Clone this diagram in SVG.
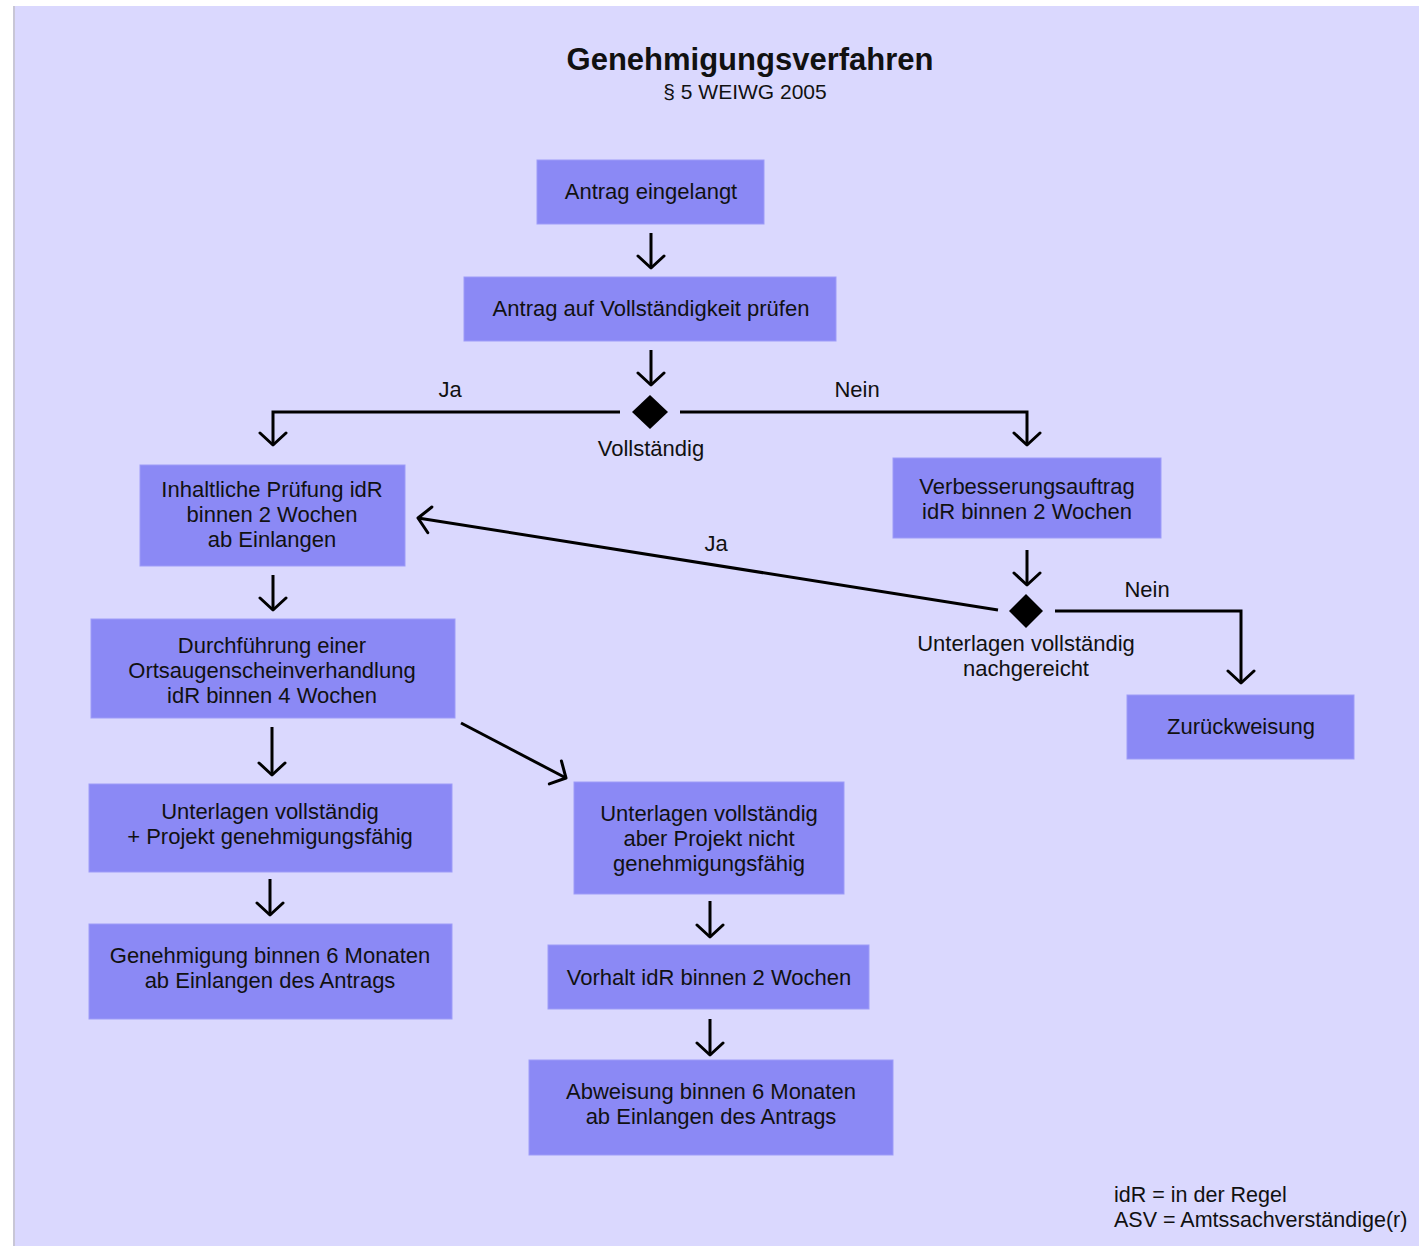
<svg xmlns="http://www.w3.org/2000/svg" width="1419" height="1246" viewBox="0 0 1419 1246">
<defs>
<marker id="arr" markerUnits="userSpaceOnUse" markerWidth="30" markerHeight="30" viewBox="0 0 30 30" refX="15" refY="15" orient="auto">
<path d="M3,2 L15,15 L3,28" fill="none" stroke="#000" stroke-width="3" stroke-linecap="round" stroke-linejoin="round"/>
</marker>
<style>
.box{fill:#8b89f5;stroke:#9d9bf7;stroke-width:1}
.t{font-family:"Liberation Sans",Arial,sans-serif;font-size:22px;fill:#111;text-anchor:middle}
.l{font-family:"Liberation Sans",Arial,sans-serif;font-size:21.5px;fill:#111}
.c{fill:none;stroke:#000;stroke-width:3}
.a{marker-end:url(#arr)}
</style>
</defs>
<rect x="0" y="0" width="1419" height="1246" fill="#fff"/>
<rect x="14" y="6" width="1405" height="1240" fill="#dad8fe"/>
<line x1="14" y1="6" x2="14" y2="1246" stroke="#c8c6d6" stroke-width="2"/>

<g id="title">
<text x="750" y="70" class="t" style="font-size:31px;font-weight:bold">Genehmigungsverfahren</text>
<text x="745" y="99" class="t" style="font-size:21px">§ 5 WEIWG 2005</text>
</g>

<g id="n1"><rect class="box" x="537" y="160" width="227" height="64"/><text class="t" x="651" y="199">Antrag eingelangt</text></g>
<g id="n2"><rect class="box" x="464" y="277" width="372" height="64"/><text class="t" x="651" y="316">Antrag auf Vollständigkeit prüfen</text></g>
<g id="d1"><polygon points="650,395 668,412 650,429 632,412" fill="#000"/><text class="t" x="651" y="456">Vollständig</text></g>
<g id="n3"><rect class="box" x="140" y="465" width="265" height="101"/><text class="t" x="272" y="497">Inhaltliche Prüfung idR</text><text class="t" x="272" y="522">binnen 2 Wochen</text><text class="t" x="272" y="547">ab Einlangen</text></g>
<g id="n4"><rect class="box" x="893" y="458" width="268" height="80"/><text class="t" x="1027" y="494">Verbesserungsauftrag</text><text class="t" x="1027" y="519">idR binnen 2 Wochen</text></g>
<g id="d2"><polygon points="1026,594 1043,611 1026,628 1009,611" fill="#000"/><text class="t" x="1026" y="651">Unterlagen vollständig</text><text class="t" x="1026" y="676">nachgereicht</text></g>
<g id="n5"><rect class="box" x="1127" y="695" width="227" height="64"/><text class="t" x="1241" y="734">Zurückweisung</text></g>
<g id="n6"><rect class="box" x="91" y="619" width="364" height="99"/><text class="t" x="272" y="653">Durchführung einer</text><text class="t" x="272" y="678">Ortsaugenscheinverhandlung</text><text class="t" x="272" y="703">idR binnen 4 Wochen</text></g>
<g id="n7"><rect class="box" x="89" y="784" width="363" height="88"/><text class="t" x="270" y="819">Unterlagen vollständig</text><text class="t" x="270" y="844">+ Projekt genehmigungsfähig</text></g>
<g id="n8"><rect class="box" x="89" y="924" width="363" height="95"/><text class="t" x="270" y="963">Genehmigung binnen 6 Monaten</text><text class="t" x="270" y="988">ab Einlangen des Antrags</text></g>
<g id="n9"><rect class="box" x="574" y="782" width="270" height="112"/><text class="t" x="709" y="821">Unterlagen vollständig</text><text class="t" x="709" y="846">aber Projekt nicht</text><text class="t" x="709" y="871">genehmigungsfähig</text></g>
<g id="n10"><rect class="box" x="548" y="945" width="321" height="64"/><text class="t" x="709" y="985">Vorhalt idR binnen 2 Wochen</text></g>
<g id="n11"><rect class="box" x="529" y="1060" width="364" height="95"/><text class="t" x="711" y="1099">Abweisung binnen 6 Monaten</text><text class="t" x="711" y="1124">ab Einlangen des Antrags</text></g>

<g id="connectors">
<line class="c a" x1="651" y1="233" x2="651" y2="268"/>
<line class="c a" x1="651" y1="350" x2="651" y2="385"/>
<polyline class="c a" points="620,412 273,412 273,445"/>
<polyline class="c a" points="680,412 1027,412 1027,445"/>
<line class="c a" x1="1027" y1="550" x2="1027" y2="585"/>
<line class="c a" x1="998" y1="610" x2="418" y2="518"/>
<polyline class="c a" points="1055,611 1241,611 1241,683"/>
<line class="c a" x1="273" y1="575" x2="273" y2="610"/>
<line class="c a" x1="272" y1="727" x2="272" y2="775"/>
<line class="c a" x1="461" y1="723" x2="566" y2="778"/>
<line class="c a" x1="270" y1="879" x2="270" y2="915"/>
<line class="c a" x1="710" y1="901" x2="710" y2="937"/>
<line class="c a" x1="710" y1="1019" x2="710" y2="1055"/>
<text class="t" x="450" y="397">Ja</text>
<text class="t" x="857" y="397">Nein</text>
<text class="t" x="716" y="551">Ja</text>
<text class="t" x="1147" y="597">Nein</text>
</g>

<g id="legend">
<text class="l" x="1114" y="1202">idR = in der Regel</text>
<text class="l" x="1114" y="1227">ASV = Amtssachverständige(r)</text>
</g>
</svg>
